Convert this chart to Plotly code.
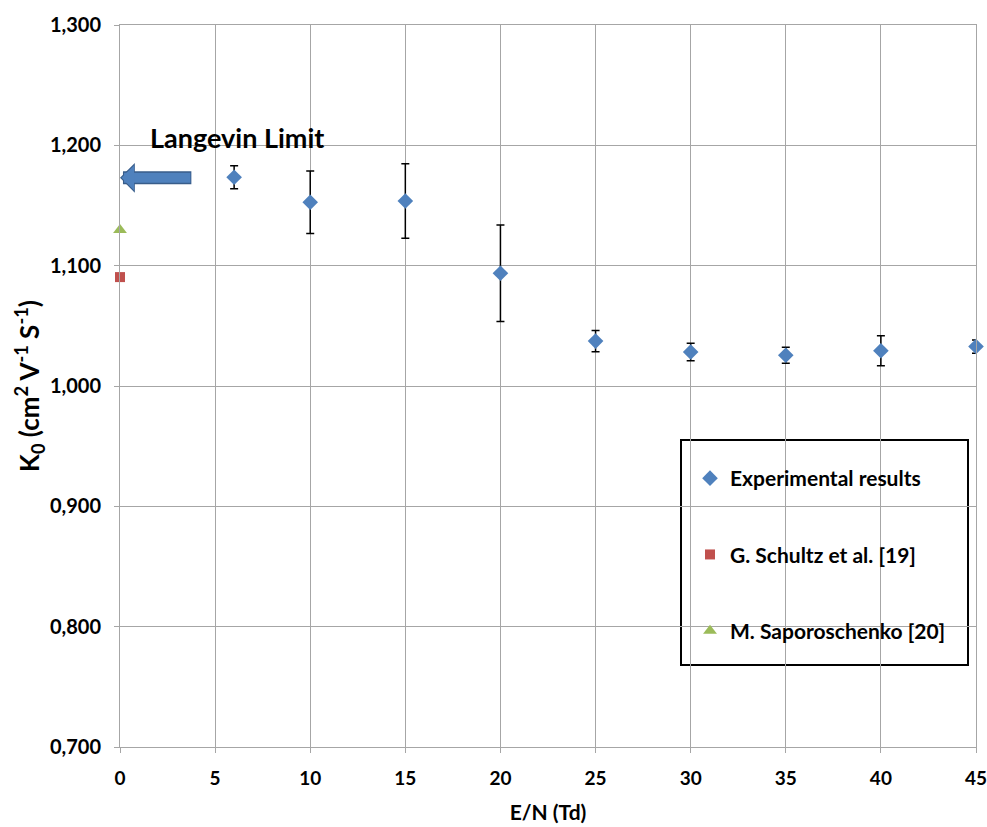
import plotly.graph_objects as go

# ---- data ----
en_td = [6, 10, 15, 20, 25, 30, 35, 40, 45]
k0_exp = [1.1735, 1.1527, 1.1537, 1.0937, 1.0373, 1.0283, 1.0256, 1.0293, 1.0328]
k0_err = [0.0095, 0.026, 0.031, 0.040, 0.0088, 0.0073, 0.0066, 0.0125, 0.0055]

schultz_x = [0]
schultz_y = [1.0905]

sapor_x = [0]
sapor_y = [1.1297]

langevin_limit = 1.173
arrow_tail_x = 3.83

y_ticks = [0.7, 0.8, 0.9, 1.0, 1.1, 1.2, 1.3]
x_ticks = [0, 5, 10, 15, 20, 25, 30, 35, 40, 45]

FONT = "Lato"
GRID = "#A6A6A6"

fig = go.Figure()

fig.add_trace(go.Scatter(
    x=en_td, y=k0_exp, mode="markers", name="Experimental results",
    legendgroup="a",
    marker=dict(symbol="diamond", size=12, color="#4F81BD"),
    error_y=dict(type="data", array=k0_err, visible=True, color="black",
                 thickness=1.5, width=4),
    cliponaxis=False,
))
fig.add_trace(go.Scatter(
    x=schultz_x, y=schultz_y, mode="markers", name="G. Schultz et al. [19]",
    legendgroup="b",
    marker=dict(symbol="square", size=10, color="#C0504D"),
    cliponaxis=False,
))
fig.add_trace(go.Scatter(
    x=sapor_x, y=sapor_y, mode="markers", name="M. Saporoschenko [20]",
    legendgroup="c",
    marker=dict(symbol="triangle-up", size=12, color="#9BBB59"),
    cliponaxis=False,
))

# Langevin limit arrow (outline + fill)
fig.add_annotation(x=0, y=langevin_limit, ax=arrow_tail_x, ay=langevin_limit,
                   xref="x", yref="y", axref="x", ayref="y", text="",
                   showarrow=True, arrowhead=1, arrowwidth=13, arrowsize=0.38,
                   arrowcolor="#385D8A")
fig.add_annotation(x=0.08, y=langevin_limit, ax=arrow_tail_x - 0.05, ay=langevin_limit,
                   xref="x", yref="y", axref="x", ayref="y", text="",
                   showarrow=True, arrowhead=1, arrowwidth=10, arrowsize=0.42,
                   arrowcolor="#4F81BD")
fig.add_annotation(x=1.47, y=1.2064, xref="x", yref="y", text="<b>Langevin Limit</b>",
                   showarrow=False, xanchor="left", yanchor="middle",
                   font=dict(family=FONT, size=27, color="black"))

# legend frame
fig.add_shape(type="rect", xref="paper", yref="paper",
              x0=(681 - 120) / 856, x1=(968 - 120) / 856,
              y0=(747 - 665) / 722, y1=(747 - 440) / 722,
              line=dict(color="black", width=2), fillcolor="white", layer="below")

fig.update_layout(
    width=987, height=827,
    margin=dict(l=120, r=11, t=25, b=80, autoexpand=False),
    paper_bgcolor="white", plot_bgcolor="white",
    separators=",.",
    font=dict(family=FONT, size=19, color="black"),
    showlegend=True,
    legend=dict(x=(690 - 120) / 856, y=(747 - 458) / 722, xanchor="left", yanchor="top",
                bgcolor="rgba(0,0,0,0)", borderwidth=0, tracegroupgap=46,
                font=dict(family=FONT, size=21, color="black", weight="bold"),
                itemwidth=30),
    xaxis=dict(range=[0, 45], tickvals=x_ticks, showgrid=True, gridcolor=GRID,
               gridwidth=1, showline=True, mirror=True, linecolor=GRID, linewidth=1,
               ticks="outside", ticklen=5, tickcolor=GRID, zeroline=False,
               automargin=False,
               ticklabelstandoff=9, ticklabeloverflow="allow",
               tickfont=dict(family=FONT, size=19, weight="bold"),
               title=dict(text="<b>E/N (Td)</b>", font=dict(family=FONT, size=21),
                          standoff=17)),
    yaxis=dict(range=[0.7, 1.3], tickvals=y_ticks, tickformat=".3f", showgrid=True,
               gridcolor=GRID, gridwidth=1, showline=True, mirror=True, linecolor=GRID,
               linewidth=1, ticks="outside", ticklen=5, tickcolor=GRID, zeroline=False,
               automargin=False,
               ticklabelstandoff=9, ticklabeloverflow="allow",
               tickfont=dict(family=FONT, size=20, weight="bold"),
               title=dict(text="<b>K<sub>0</sub> (cm<sup>2</sup> V<sup>-1</sup> S<sup>-1</sup>)</b>",
                          font=dict(family=FONT, size=26), standoff=2)),
)

fig.write_html("out.html")
